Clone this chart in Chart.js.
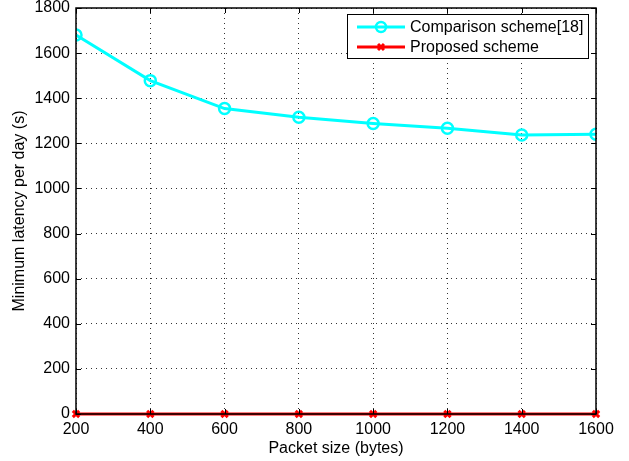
<!DOCTYPE html>
<html>
<head>
<meta charset="utf-8">
<script src="https://cdn.jsdelivr.net/npm/chart.js@4"></script>
<style>
  html, body { margin: 0; padding: 0; background: #fff; }
  #wrap { width: 629px; height: 461px; }
</style>
</head>
<body>
<div id="wrap"><canvas id="latencyChart" width="629" height="461"></canvas></div>
<script>
// packet sizes (bytes)
const packetSizes = [200, 400, 600, 800, 1000, 1200, 1400, 1600];
const comparisonLatency = [1680, 1478, 1354, 1316, 1288, 1267, 1237, 1240];
const proposedLatency = [0, 0, 0, 0, 0, 0, 0, 0];
const xTicks = [200, 400, 600, 800, 1000, 1200, 1400, 1600];
const yTicks = [0, 200, 400, 600, 800, 1000, 1200, 1400, 1600, 1800];

const FONT = "'Liberation Sans', Arial, Helvetica, sans-serif";

// frame, inward ticks and boxed legend like matlab
const matlabFrame = {
  id: "matlabFrame",
  afterDraw(chart) {
    const ctx = chart.ctx;
    const a = chart.chartArea;
    const xs = chart.scales.x, ys = chart.scales.y;
    ctx.save();
    ctx.strokeStyle = "#000";
    ctx.lineWidth = 1;
    xTicks.forEach(function (v) {
      const px = Math.round(xs.getPixelForValue(v)) + 0.5;
      ctx.beginPath();
      ctx.moveTo(px, a.bottom); ctx.lineTo(px, a.bottom - 5);
      ctx.moveTo(px, a.top); ctx.lineTo(px, a.top + 5);
      ctx.stroke();
    });
    yTicks.forEach(function (v) {
      const py = Math.round(ys.getPixelForValue(v)) + 0.5;
      ctx.beginPath();
      ctx.moveTo(a.left, py); ctx.lineTo(a.left + 5, py);
      ctx.moveTo(a.right, py); ctx.lineTo(a.right - 5, py);
      ctx.stroke();
    });
    ctx.lineWidth = 1.5;
    ctx.strokeRect(a.left, a.top, a.right - a.left, a.bottom - a.top);

    // legend
    const lx = 347, ly = 14, lw = 241, lh = 44;
    ctx.fillStyle = "#fff";
    ctx.fillRect(lx, ly, lw, lh);
    ctx.lineWidth = 1;
    ctx.strokeRect(lx + 0.5, ly + 0.5, lw, lh);
    ctx.font = "16px " + FONT;
    ctx.textBaseline = "middle";
    chart.data.datasets.forEach(function (ds, i) {
      const cy = ly + 13 + i * 20;
      ctx.strokeStyle = ds.borderColor;
      ctx.lineWidth = 3;
      ctx.beginPath();
      ctx.moveTo(357, cy); ctx.lineTo(405, cy);
      ctx.stroke();
      if (ds.pointStyle === "circle") {
        ctx.lineWidth = 2.5;
        ctx.beginPath();
        ctx.arc(381, cy, 5, 0, Math.PI * 2);
        ctx.stroke();
      } else {
        ctx.lineWidth = 3;
        ctx.beginPath();
        ctx.moveTo(378, cy - 3); ctx.lineTo(384, cy + 3);
        ctx.moveTo(378, cy + 3); ctx.lineTo(384, cy - 3);
        ctx.stroke();
      }
      ctx.fillStyle = "#000";
      ctx.fillText(ds.label, 410, cy + 1);
    });
    ctx.restore();
  },
};

const ctx = document.getElementById("latencyChart").getContext("2d");
new Chart(ctx, {
  type: "line",
  data: {
    labels: packetSizes,
    datasets: [
      {
        label: "Comparison scheme[18]",
        data: packetSizes.map((x, i) => ({ x: x, y: comparisonLatency[i] })),
        borderColor: "#00ffff",
        backgroundColor: "#ffffff",
        borderWidth: 3,
        pointStyle: "circle",
        pointRadius: 5.5,
        pointBorderWidth: 2.5,
        pointBackgroundColor: "rgba(255,255,255,0)",
        tension: 0,
      },
      {
        label: "Proposed scheme",
        data: packetSizes.map((x, i) => ({ x: x, y: proposedLatency[i] })),
        borderColor: "#ff0000",
        backgroundColor: "#ff0000",
        borderWidth: 3,
        pointStyle: "crossRot",
        pointRadius: 4.5,
        pointBorderWidth: 3,
        tension: 0,
        clip: 6,
      },
    ],
  },
  options: {
    responsive: false,
    animation: false,
    devicePixelRatio: 1,
    layout: { padding: { left: 0, right: 33, top: 6, bottom: 0 } },
    plugins: {
      legend: { display: false },
      tooltip: { enabled: false },
    },
    scales: {
      x: {
        type: "linear",
        min: 200,
        max: 1600,
        afterBuildTicks: function (s) { s.ticks = xTicks.map(v => ({ value: v })); },
        afterFit: function (s) {
          s.height = 47;
          s.paddingLeft = 0;
          s.paddingRight = 0;
        },
        ticks: {
          color: "#000",
          font: { family: FONT, size: 16 },
          padding: 6,
          maxRotation: 0,
          callback: function (v) { return String(v); },
        },
        grid: { color: "#000", lineWidth: 0.8, drawTicks: false },
        border: { display: false, dash: [1, 4] },
        title: {
          display: true,
          text: "Packet size (bytes)",
          color: "#000",
          font: { family: FONT, size: 16 },
          padding: { top: 0, bottom: 3 },
        },
      },
      y: {
        min: 0,
        max: 1800,
        afterBuildTicks: function (s) { s.ticks = yTicks.map(v => ({ value: v })); },
        afterFit: function (s) {
          s.width = 76;
          s.paddingTop = 0;
          s.paddingBottom = 0;
        },
        ticks: {
          color: "#000",
          font: { family: FONT, size: 16 },
          padding: 6,
          callback: function (v) { return String(v); },
        },
        grid: { color: "#000", lineWidth: 0.8, drawTicks: false },
        border: { display: false, dash: [1, 4] },
        title: {
          display: true,
          text: "Minimum latency per day (s)",
          color: "#000",
          font: { family: FONT, size: 16 },
          padding: { top: 10, bottom: 0 },
        },
      },
    },
  },
  plugins: [matlabFrame],
});
</script>
</body>
</html>
